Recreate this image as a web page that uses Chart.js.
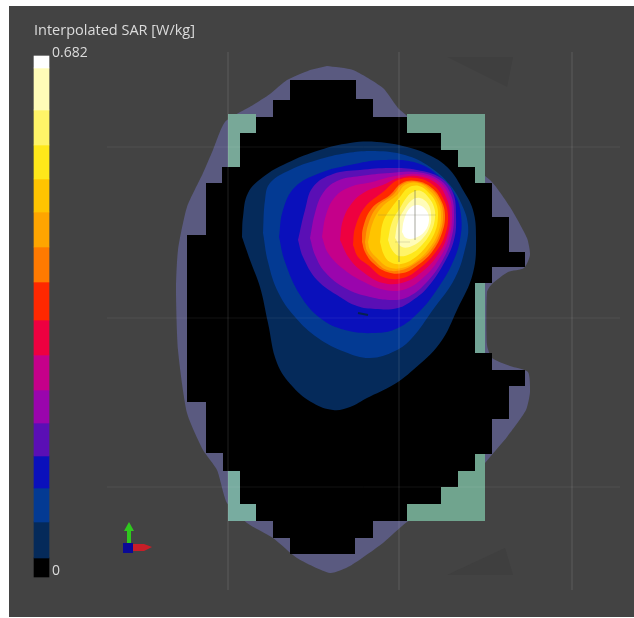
<!DOCTYPE html>
<html>
<head>
<meta charset="utf-8">
<title>Interpolated SAR</title>
<script src="https://cdn.jsdelivr.net/npm/chart.js@4/dist/chart.umd.js"></script>
<style>
    html, body { margin: 0; padding: 0; background: #fff; }
    canvas { display: block; filter: blur(0.6px); }
</style>
</head>
<body>
<canvas id="chart" width="634" height="618"></canvas>
<script>
// all positions are in image units, x right and y down
const stage = [[9, 6], [634, 6], [634, 617], [9, 617]];
const ghostTop = [[447, 57], [513, 57], [507, 87]];
const ghostBottom = [[447, 575], [513, 575], [505, 548]];

const halo = [[327, 66], [353, 70], [383, 88], [400, 110], [490, 180], [510, 207], [527, 238], [530, 255], [524, 268], [508, 272], [492, 284], [487, 292], [487, 345], [492, 358], [510, 366], [528, 372], [530, 392], [526, 410], [507, 437], [490, 457], [470, 480], [440, 505], [407, 522], [383, 543], [350, 566], [330, 573], [297, 558], [273, 538], [247, 523], [227, 503], [217, 470], [203, 450], [187, 413], [178, 350], [176, 290], [178, 250], [187, 207], [203, 173], [213, 150], [225, 122], [253, 105], [270, 94], [287, 80], [310, 70]];

const greenTopLeft = [[228, 114], [256, 114], [256, 133], [240, 133], [240, 167], [228, 167]];
const greenTopRight = [[407, 114], [485, 114], [485, 183], [407, 183]];
const greenRight = [[470, 283], [485, 283], [485, 353], [470, 353]];
const greenBottomLeft = [[228, 471], [240, 471], [240, 504], [256, 504], [256, 521], [228, 521]];
const greenBottomRight = [[407, 521], [485, 521], [485, 454], [407, 454]];

const phantom = [[290, 80], [356, 80], [356, 99], [373, 99], [373, 117], [407, 117], [407, 133], [441, 133], [441, 150], [458, 150], [458, 167], [475, 167], [475, 183], [492, 183], [492, 217], [509, 217], [509, 252], [525, 252], [525, 267], [492, 267], [492, 283], [475, 283], [475, 353], [492, 353], [492, 370], [525, 370], [525, 386], [509, 386], [509, 419], [492, 419], [492, 454], [475, 454], [475, 471], [458, 471], [458, 487], [441, 487], [441, 504], [407, 504], [407, 521], [373, 521], [373, 538], [355, 538], [355, 554], [290, 554], [290, 538], [273, 538], [273, 521], [256, 521], [256, 504], [240, 504], [240, 471], [223, 471], [223, 453], [206, 453], [206, 402], [187, 402], [187, 235], [206, 235], [206, 183], [222, 183], [222, 167], [240, 167], [240, 133], [256, 133], [256, 117], [273, 117], [273, 100], [290, 100]];

const sarLevel1 = [[242, 237], [243, 217], [248, 193], [263, 177], [287, 163], [320, 150], [350, 143], [377, 142], [407, 147], [433, 157], [450, 170], [463, 190], [473, 210], [476, 237], [473, 273], [457, 310], [440, 343], [413, 370], [393, 385], [367, 398], [350, 407], [333, 410], [313, 403], [293, 387], [277, 363], [268, 323], [260, 287], [250, 260], [242, 237]];
const sarLevel2 = [[263, 233], [265, 200], [270, 183], [290, 170], [317, 160], [347, 153], [375, 151], [405, 155], [430, 167], [450, 185], [462, 205], [468, 225], [466, 245], [455, 278], [432, 311], [412, 338], [395, 351], [370, 358], [345, 352], [318, 338], [295, 317], [278, 292], [268, 262], [263, 233]];
const sarLevel3 = [[279, 237], [283, 210], [295, 187], [320, 173], [350, 165], [383, 160], [417, 163], [440, 177], [455, 195], [461, 215], [460, 240], [452, 264], [438, 288], [420, 311], [398, 328], [375, 333], [345, 330], [320, 318], [300, 295], [285, 262], [279, 237]];
const sarLevel4 = [[298, 240], [305, 210], [313, 187], [333, 174], [360, 170], [390, 168], [417, 170], [441, 178], [453, 193], [456, 215], [454, 240], [443, 265], [427, 288], [413, 300], [398, 308], [375, 309], [357, 306], [340, 297], [317, 280], [303, 257], [298, 240]];
const sarLevel5 = [[310, 238], [315, 213], [323, 193], [337, 181], [360, 176], [390, 173], [417, 172], [440, 180], [451, 195], [454, 215], [451, 240], [441, 263], [426, 283], [410, 296], [395, 300], [370, 297], [345, 288], [325, 272], [315, 255], [310, 238]];
const sarLevel6 = [[322, 237], [326, 215], [335, 197], [350, 187], [372, 182], [395, 176], [417, 174], [438, 181], [449, 196], [452, 215], [449, 238], [439, 259], [425, 276], [406, 289], [385, 290], [362, 281], [342, 268], [328, 253], [322, 237]];
const sarLevel7 = [[340, 240], [343, 220], [352, 203], [365, 192], [385, 184], [398, 178], [417, 176], [436, 183], [446, 197], [450, 215], [447, 237], [437, 256], [423, 271], [405, 282], [383, 283], [363, 272], [349, 258], [340, 240]];
const sarLevel8 = [[353, 245], [355, 228], [365, 207], [383, 192], [398, 180], [417, 178], [433, 185], [443, 198], [448, 215], [445, 235], [435, 253], [420, 268], [403, 278], [383, 277], [368, 265], [358, 257], [353, 245]];
const sarLevel9 = [[362, 242], [363, 228], [372, 208], [390, 195], [402, 183], [417, 181], [432, 188], [441, 200], [445, 215], [442, 233], [432, 252], [418, 265], [403, 273], [387, 272], [373, 263], [365, 252], [362, 242]];
const sarLevel10 = [[365, 242], [368, 225], [377, 207], [393, 195], [403, 184], [417, 182], [431, 189], [440, 201], [443, 215], [440, 233], [430, 251], [416, 263], [402, 270], [387, 270], [375, 261], [367, 251], [365, 242]];
const sarLevel11 = [[368, 242], [373, 222], [382, 207], [397, 195], [405, 185], [418, 183], [430, 191], [438, 202], [441, 215], [438, 233], [428, 250], [415, 262], [402, 268], [388, 267], [377, 258], [370, 250], [368, 242]];
const sarLevel12 = [[380, 242], [383, 222], [392, 207], [400, 197], [408, 188], [419, 186], [429, 193], [436, 203], [438, 216], [435, 232], [425, 248], [413, 259], [401, 264], [390, 262], [384, 255], [380, 242]];
const sarLevel13 = [[388, 240], [392, 222], [400, 208], [407, 197], [413, 192], [421, 191], [429, 198], [434, 207], [435, 218], [431, 232], [421, 246], [410, 254], [399, 256], [392, 250], [388, 240]];
const sarLevel14 = [[395, 238], [398, 222], [404, 210], [412, 200], [420, 198], [428, 204], [431, 214], [430, 226], [423, 238], [412, 246], [402, 247], [395, 238]];
const sarLevel15 = [[402, 232], [404, 220], [410, 208], [418, 205], [426, 210], [429, 220], [425, 231], [415, 238], [406, 238], [402, 232]];
const sarLevels = [sarLevel1, sarLevel2, sarLevel3, sarLevel4, sarLevel5, sarLevel6, sarLevel7, sarLevel8, sarLevel9, sarLevel10, sarLevel11, sarLevel12, sarLevel13, sarLevel14, sarLevel15];

const scaleBottoms = [577, 558, 522, 488, 456, 423, 390, 355, 320, 282, 247, 212, 179, 145, 110, 68];
const scaleTops = [558, 522, 488, 456, 423, 390, 355, 320, 282, 247, 212, 179, 145, 110, 68, 56];
const scaleColors = ["#000000", "#052a5a", "#033a93", "#0a10bb", "#5a0fb5", "#9a05ad", "#c5008a", "#ee0040",
    "#ff2800", "#ff7a00", "#ffa500", "#ffc400", "#ffe81a", "#fff468", "#fffcb8", "#ffffff"];

const gridXs = [228, 399, 572];
const gridYs = [147, 318, 487];
const meshLines = [[[399, 200], [399, 262]], [[415, 190], [415, 240]], [[378, 215], [436, 215]], [[395, 242], [410, 242]]];
const mark = [[358, 313], [368, 315]];

const axisUp = [[127, 543], [127, 531], [124, 531], [129, 522], [134, 531], [131, 531], [131, 543]];
const axisRight = [[133, 544], [144, 544], [152, 547], [144, 551], [133, 551]];
const axisOut = [[123, 543], [133, 543], [133, 553], [123, 553]];

const labels = [
    {text: "Interpolated SAR [W/kg]", x: 34, y: 31, size: 14.5},
    {text: "0.682", x: 52, y: 53, size: 14},
    {text: "0", x: 52, y: 571, size: 14}
];

function toPoints(pairs) {
    return pairs.map(p => ({x: p[0], y: p[1]}));
}

function shape(pairs, color, tension) {
    return {
        data: toPoints(pairs),
        showLine: true,
        fill: 'shape',
        backgroundColor: color,
        borderColor: color,
        borderWidth: 0,
        pointRadius: 0,
        tension: tension || 0
    };
}

function segment(pairs, color, width) {
    return {
        data: toPoints(pairs),
        showLine: true,
        fill: false,
        borderColor: color,
        borderWidth: width,
        pointRadius: 0
    };
}

const datasets = [
    shape(stage, "#434343"),
    shape(ghostTop, "#3f3f3f"),
    shape(ghostBottom, "#3f3f3f"),
    shape(halo, "#5a5a80", 0.2),
    shape(greenTopLeft, "#78a898"),
    shape(greenTopRight, "#70a08e"),
    shape(greenRight, "#72a496"),
    shape(greenBottomLeft, "#78aca0"),
    shape(greenBottomRight, "#70a48e"),
    shape(phantom, "#000000"),
];
sarLevels.forEach((level, i) => {
    datasets.push(shape(level, scaleColors[i + 1], 0.4));
});
datasets.push({
    type: 'bar',
    data: scaleTops.map((top, i) => ({x: 41.5, y: [scaleBottoms[i], top]})),
    backgroundColor: scaleColors,
    barThickness: 15
});
gridXs.forEach(x => {
    datasets.push(segment([[x, 52], [x, 590]], "rgba(255,255,255,0.05)", 1));
});
gridYs.forEach(y => {
    datasets.push(segment([[107, y], [620, y]], "rgba(255,255,255,0.07)", 1));
});
meshLines.forEach(line => {
    datasets.push(segment(line, "rgba(110,110,90,0.22)", 1));
});
datasets.push(segment(mark, "#06204f", 2));
datasets.push(shape(axisUp, "#2fc81e"));
datasets.push(shape(axisRight, "#c81e28"));
datasets.push(shape(axisOut, "#0a0a96"));

// first dataset in the list goes to the back
datasets.forEach((d, i) => { d.order = datasets.length - i; });

const textLabels = {
    id: 'textLabels',
    afterDraw(chart) {
        const {ctx, scales} = chart;
        ctx.save();
        ctx.fillStyle = "#dcdcdc";
        ctx.textBaseline = 'middle';
        labels.forEach(l => {
            ctx.font = l.size + 'px "Open Sans"';
            ctx.fillText(l.text, scales.x.getPixelForValue(l.x), scales.y.getPixelForValue(l.y));
        });
        ctx.restore();
    }
};

new Chart(document.getElementById("chart"), {
    type: 'scatter',
    data: {datasets: datasets},
    options: {
        responsive: false,
        animation: false,
        layout: {padding: 0},
        plugins: {legend: {display: false}, tooltip: {enabled: false}},
        scales: {
            x: {type: 'linear', min: 0, max: 634, offset: false, display: false},
            y: {type: 'linear', min: 0, max: 618, reverse: true, display: false}
        }
    },
    plugins: [textLabels]
});
</script>
</body>
</html>
